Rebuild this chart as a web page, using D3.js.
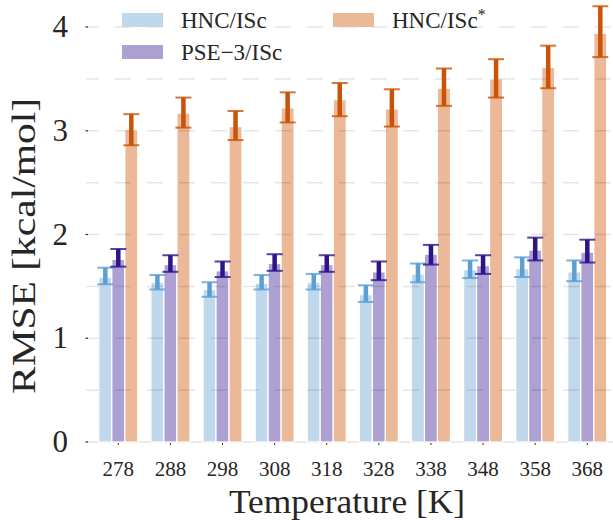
<!DOCTYPE html>
<html>
<head>
<meta charset="utf-8">
<script src="https://cdn.jsdelivr.net/npm/d3@7"></script>
<style>
  body { margin: 0; background: #fff; }
  svg { display: block; }
</style>
</head>
<body>
<div id="chart"></div>
<script>
// temperatures on x
const temps = [278, 288, 298, 308, 318, 328, 338, 348, 358, 368];

// HNC/ISc
const hncMean = [1.59, 1.54, 1.47, 1.53, 1.54, 1.42, 1.62, 1.66, 1.67, 1.64];
const hncLo   = [1.52, 1.47, 1.40, 1.47, 1.47, 1.35, 1.54, 1.58, 1.59, 1.55];
const hncHi   = [1.68, 1.61, 1.54, 1.61, 1.62, 1.51, 1.72, 1.75, 1.78, 1.75];

// PSE-3/ISc
const pseMean = [1.76, 1.71, 1.65, 1.72, 1.71, 1.64, 1.81, 1.70, 1.85, 1.83];
const pseLo   = [1.69, 1.64, 1.59, 1.65, 1.64, 1.56, 1.71, 1.62, 1.75, 1.73];
const pseHi   = [1.86, 1.80, 1.74, 1.81, 1.80, 1.74, 1.90, 1.80, 1.97, 1.95];

// HNC/ISc*
const starMean = [3.01, 3.17, 3.04, 3.22, 3.30, 3.21, 3.41, 3.50, 3.61, 3.94];
const starLo   = [2.86, 3.03, 2.91, 3.08, 3.14, 3.04, 3.24, 3.32, 3.41, 3.71];
const starHi   = [3.16, 3.32, 3.19, 3.37, 3.46, 3.40, 3.60, 3.69, 3.82, 4.20];

const yTicks = [0, 1, 2, 3, 4];
const yGrid = [0.5, 1, 1.5, 2, 2.5, 3, 3.5, 4];

const series = [
    {key: "hnc",  label: "HNC/ISc",   mean: hncMean,  lo: hncLo,  hi: hncHi,  fill: "#c0d8ec", err: "#5c9fd3"},
    {key: "pse",  label: "PSE\u22123/ISc", mean: pseMean, lo: pseLo, hi: pseHi, fill: "#ada0d3", err: "#2e1488"},
    {key: "star", label: "HNC/ISc",  mean: starMean, lo: starLo, hi: starHi, fill: "#ebb898", err: "#c95408"}
];

const FONT = "'Liberation Serif', 'DejaVu Serif', 'Times New Roman', serif";

/***** SETUP *****/
const width = 613, height = 520;
const svg = d3.select("#chart").append("svg")
    .attr("width", width)
    .attr("height", height);

const xScale = d3.scalePoint()
    .domain(temps)
    .range([118.3, 587.3]);

const subScale = d3.scaleBand()
    .domain(series.map(d => d.key))
    .range([-19.5, 19.5]);

const yScale = d3.scaleLinear()
    .domain([0, 4])
    .range([442, 27]);

const plotLeft = 86;

/***** BASE LINE *****/
svg.append("line")
    .attr("x1", plotLeft).attr("x2", width)
    .attr("y1", yScale(0)).attr("y2", yScale(0))
    .attr("stroke", "#e3e3e3")
    .attr("stroke-width", 1.5);

/***** BARS *****/
series.forEach(s => {
    svg.append("g")
        .attr("class", "bars " + s.key)
        .selectAll("rect")
        .data(temps)
        .join("rect")
        .attr("x", (d) => xScale(d) + subScale(s.key))
        .attr("y", (d, i) => yScale(s.mean[i]))
        .attr("width", subScale.bandwidth())
        .attr("height", (d, i) => yScale(0) - yScale(s.mean[i]))
        .attr("fill", s.fill)
        .attr("stroke", "#fff")
        .attr("stroke-width", 1.2);
});

/***** GRIDLINES (drawn over bars, faint) *****/
svg.append("g")
    .selectAll("line")
    .data(yGrid)
    .join("line")
    .attr("x1", plotLeft).attr("x2", width)
    .attr("y1", d => yScale(d)).attr("y2", d => yScale(d))
    .attr("stroke", "rgba(0,0,0,0.1)")
    .attr("stroke-width", 1.5)
    .attr("stroke-dasharray", "16,16")
    .attr("stroke-dashoffset", 3);

/***** ERROR BARS *****/
series.forEach(s => {
    const g = svg.append("g").attr("class", "err " + s.key);
    const cx = d => xScale(d) + subScale(s.key) + subScale.bandwidth() / 2;
    g.selectAll(".stem")
        .data(temps)
        .join("line")
        .attr("class", "stem")
        .attr("x1", cx).attr("x2", cx)
        .attr("y1", (d, i) => yScale(s.lo[i]))
        .attr("y2", (d, i) => yScale(s.hi[i]))
        .attr("stroke", s.err)
        .attr("stroke-width", 4.5);
    ["lo", "hi"].forEach(k => {
        g.selectAll(".cap" + k)
            .data(temps)
            .join("line")
            .attr("class", "cap" + k)
            .attr("x1", d => cx(d) - 8).attr("x2", d => cx(d) + 8)
            .attr("y1", (d, i) => yScale(s[k][i]))
            .attr("y2", (d, i) => yScale(s[k][i]))
            .attr("stroke", s.err)
            .attr("stroke-opacity", 0.8)
            .attr("stroke-width", 2);
    });
});

/***** Y AXIS *****/
const yAxis = svg.append("g");
yAxis.selectAll(".tick")
    .data(yTicks)
    .join("line")
    .attr("class", "tick")
    .attr("x1", plotLeft - 0.5).attr("x2", plotLeft + 2)
    .attr("y1", d => yScale(d)).attr("y2", d => yScale(d))
    .attr("stroke", "#333")
    .attr("stroke-width", 1.2);
yAxis.selectAll(".ylab")
    .data(yTicks)
    .join("text")
    .attr("class", "ylab")
    .attr("x", 68)
    .attr("y", d => yScale(d) + 10)
    .attr("text-anchor", "end")
    .attr("font-family", FONT)
    .attr("fill", "#262626")
    .style("font-size", "31px")
    .text(d => d);

svg.append("text")
    .attr("transform", "translate(35, 246) rotate(-90)")
    .attr("text-anchor", "middle")
    .attr("font-family", FONT)
    .attr("fill", "#262626")
    .attr("textLength", 296)
    .attr("lengthAdjust", "spacingAndGlyphs")
    .style("font-size", "34px")
    .text("RMSE [kcal/mol]");

/***** X AXIS *****/
const xAxis = svg.append("g");
xAxis.selectAll(".tick")
    .data(temps)
    .join("line")
    .attr("class", "tick")
    .attr("x1", d => xScale(d)).attr("x2", d => xScale(d))
    .attr("y1", yScale(0) + 1).attr("y2", yScale(0) + 3)
    .attr("stroke", "#333")
    .attr("stroke-width", 1);
xAxis.selectAll(".xlab")
    .data(temps)
    .join("text")
    .attr("class", "xlab")
    .attr("x", d => xScale(d))
    .attr("y", 476)
    .attr("text-anchor", "middle")
    .attr("font-family", FONT)
    .attr("fill", "#262626")
    .style("font-size", "21px")
    .text(d => d);

svg.append("text")
    .attr("x", 347)
    .attr("y", 513)
    .attr("text-anchor", "middle")
    .attr("font-family", FONT)
    .attr("fill", "#262626")
    .attr("textLength", 236)
    .attr("lengthAdjust", "spacingAndGlyphs")
    .style("font-size", "33px")
    .text("Temperature [K]");

/***** LEGEND *****/
const legendPos = [
    {x: 122, y: 13},
    {x: 122, y: 45},
    {x: 333, y: 13}
];
const legend = svg.append("g").attr("class", "legend");
series.forEach((s, i) => {
    const p = legendPos[i];
    legend.append("rect")
        .attr("x", p.x).attr("y", p.y)
        .attr("width", 41).attr("height", 14)
        .attr("fill", s.fill);
    const t = legend.append("text")
        .attr("x", p.x + 59)
        .attr("y", p.y + 15)
        .attr("font-family", FONT)
        .attr("fill", "#262626")
        .style("font-size", "23px")
        .text(s.label);
    if (s.key === "star") {
        t.append("tspan")
            .attr("dy", -8)
            .style("font-size", "16px")
            .text("*");
    }
});
</script>
</body>
</html>
